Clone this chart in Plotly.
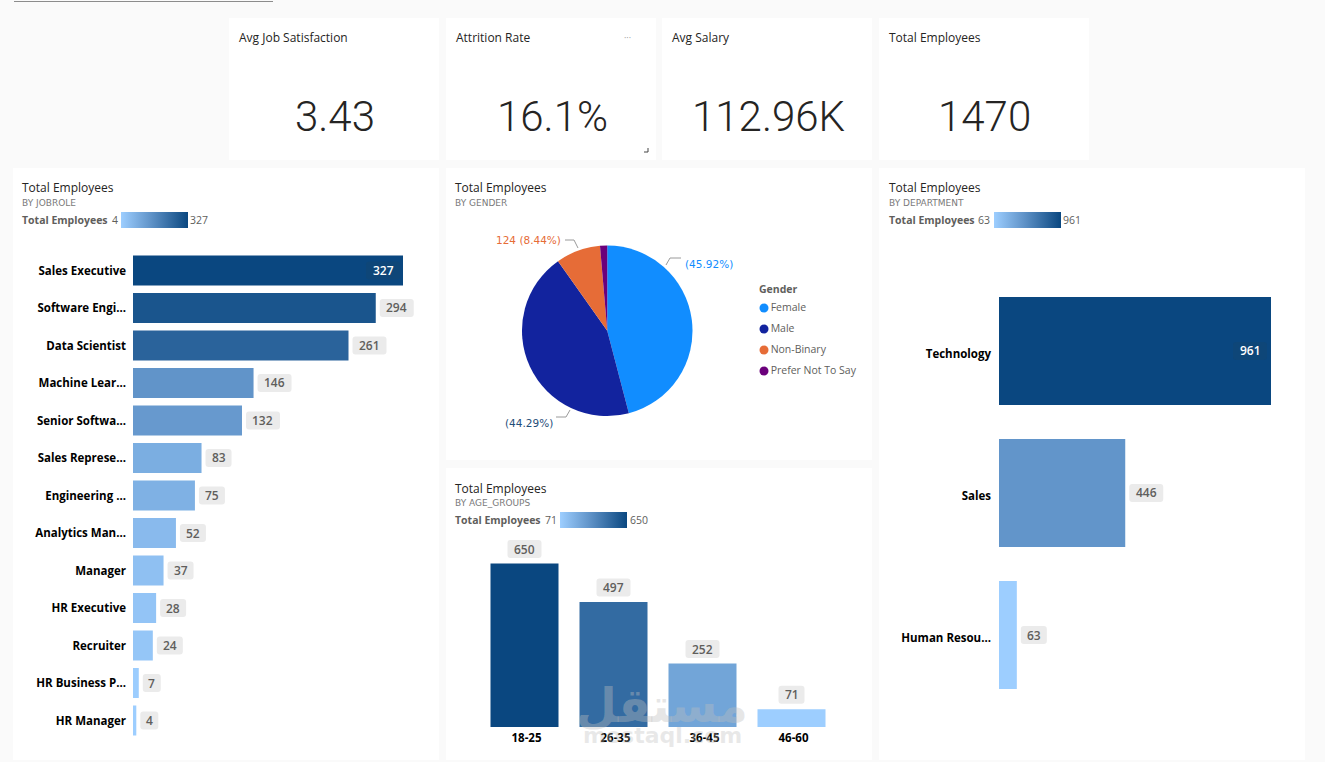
import plotly.graph_objects as go

W, H = 1325, 762

# data
job_roles = ["Sales Executive", "Software Engi...", "Data Scientist", "Machine Lear...", "Senior Softwa...",
             "Sales Represe...", "Engineering ...", "Analytics Man...", "Manager", "HR Executive",
             "Recruiter", "HR Business P...", "HR Manager"]
job_values = [327, 294, 261, 146, 132, 83, 75, 52, 37, 28, 24, 7, 4]
genders = ["Female", "Male", "Non-Binary", "Prefer Not To Say"]
gender_values = [675, 651, 124, 20]
gender_colors = ["#118DFF", "#12239E", "#E66C37", "#6B007B"]
age_groups = ["18-25", "26-35", "36-45", "46-60"]
age_values = [650, 497, 252, 71]
departments = ["Technology", "Sales", "Human Resou..."]
department_values = [961, 446, 63]
kpi_titles = ["Avg Job Satisfaction", "Attrition Rate", "Avg Salary", "Total Employees"]
kpi_values = ["3.43", "16.1%", "112.96K", "1470"]

BLUES = [[0, "#9DCEFF"], [0.43, "#6295CA"], [1, "#0A4780"]]
UI_FONT = "Open Sans"
KPI_FONT = "Roboto"


def px_x(x):
    return x / W


def px_y(y):
    return 1 - y / H


def dom_x(x0, x1):
    return [px_x(x0), px_x(x1)]


def dom_y(y0, y1):
    return [px_y(y1), px_y(y0)]


def note(x, y, text, size=12, color="#252423", anchor="left", weight=None, family=UI_FONT):
    fig.add_annotation(xref="paper", yref="paper", x=px_x(x), y=px_y(y), text=text, showarrow=False,
                       xanchor=anchor, yanchor="middle", borderpad=0, borderwidth=0,
                       font=dict(size=size, color=color, family=family, weight=weight))


def card(x0, y0, x1, y1):
    fig.add_shape(type="rect", xref="paper", yref="paper", x0=px_x(x0), x1=px_x(x1), y0=px_y(y0), y1=px_y(y1),
                  fillcolor="white", line_width=0, layer="below")


def leader(points):
    path = "M " + " L ".join(f"{px_x(a)} {px_y(b)}" for a, b in points)
    fig.add_shape(type="path", xref="paper", yref="paper", path=path, line=dict(color="#9A9A9A", width=1))


def chip(xa, ya, xv, yv, cx, cy, text, color="#EBEBEB", text_color="#605E5C"):
    # rounded grey box around a data label, anchored on the bar value and sized in pixels
    # pixel sized shape paths count y upwards
    half = 6 + 4 * len(text) - 1
    r = 3
    x0, x1, y0, y1 = cx - half, cx + half, -cy - 9, -cy + 9
    path = (f"M {x0 + r} {y0} L {x1 - r} {y0} Q {x1} {y0} {x1} {y0 + r} L {x1} {y1 - r} Q {x1} {y1} {x1 - r} {y1} "
            f"L {x0 + r} {y1} Q {x0} {y1} {x0} {y1 - r} L {x0} {y0 + r} Q {x0} {y0} {x0 + r} {y0} Z")
    fig.add_shape(type="path", xref=xa, yref=ya, xsizemode="pixel", ysizemode="pixel", xanchor=xv, yanchor=yv,
                  path=path, fillcolor=color, line_width=0)
    fig.add_annotation(xref=xa, yref=ya, x=xv, y=yv, xshift=cx, yshift=-cy, text=text, showarrow=False,
                       font=dict(size=12, color=text_color, family=UI_FONT, weight=600))


def scale_legend(x_label, x_low, x_high, y, low, high):
    note(x_label, y, "Total Employees", size=10.5, color="#605E5C", weight=700)
    note(x_low, y, str(low), size=10.5, color="#605E5C")
    note(x_high, y, str(high), size=10.5, color="#605E5C")


def colorbar_at(x, y):
    return dict(orientation="h", x=px_x(x), xanchor="left", y=px_y(y), yanchor="middle", xref="paper", yref="paper",
                lenmode="pixels", len=67, thicknessmode="pixels", thickness=16, xpad=0, ypad=0,
                outlinewidth=0, showticklabels=False, ticks="")


fig = go.Figure()

# cards
for x0 in [229, 446, 662, 879]:
    card(x0, 18, x0 + 210, 160)
card(13, 168, 439, 760)
card(446, 168, 872, 460)
card(446, 468, 872, 760)
card(879, 168, 1305, 760)

fig.add_shape(type="line", xref="paper", yref="paper", x0=px_x(14), x1=px_x(273), y0=px_y(1.5), y1=px_y(1.5),
              line=dict(color="#8C8C8C", width=1))

# kpi cards
for x0, title, value in zip([229, 446, 662, 879], kpi_titles, kpi_values):
    note(x0 + 10, 38, title)
    note(x0 + 106, 116, value, size=42, color="#252423", anchor="center", weight=300, family=KPI_FONT)
note(627, 38, "···", size=9, color="#9A9A9A", anchor="center")
fig.add_shape(type="path", xref="paper", yref="paper",
              path=f"M {px_x(648)} {px_y(148)} L {px_x(648)} {px_y(152)} L {px_x(644)} {px_y(152)}",
              line=dict(color="#444444", width=1))

# job role bars
fig.add_trace(go.Bar(y=job_roles, x=job_values, orientation="h", xaxis="x", yaxis="y", width=0.8,
                     marker=dict(color=job_values, colorscale=BLUES, cmin=min(job_values), cmax=max(job_values),
                                 line_width=0, showscale=True, colorbar=colorbar_at(121, 220))))
note(22, 188, "Total Employees")
note(22, 203, "BY JOBROLE", size=9, color="#7A7A7A", family="DejaVu Sans")
scale_legend(22, 112, 190, 220, min(job_values), max(job_values))
for role, v in zip(job_roles, job_values):
    if v == max(job_values):
        chip("x", "y", v, role, -20, 0, str(v), color="#0E4678", text_color="white")
    else:
        chip("x", "y", v, role, 4 + 6 + 4 * len(str(v)) - 1, 0, str(v))

# gender pie
fig.add_trace(go.Pie(labels=genders, values=gender_values, sort=False, direction="clockwise", rotation=0,
                     textinfo="none", showlegend=False,
                     marker=dict(colors=gender_colors, line=dict(color="white", width=0)),
                     domain=dict(x=dom_x(522, 692.5), y=dom_y(245.5, 416))))
note(455, 188, "Total Employees")
note(455, 203, "BY GENDER", size=9, color="#7A7A7A", family="DejaVu Sans")
total = sum(gender_values)
note(685, 264, f"({gender_values[0] / total * 100:.2f}%)", size=10.5, color=gender_colors[0], family="DejaVu Sans")
note(505, 423, f"({gender_values[1] / total * 100:.2f}%)", size=10.5, color="#1F4E79", family="DejaVu Sans")
note(561, 240, f"{gender_values[2]} ({gender_values[2] / total * 100:.2f}%)", size=10.5, color=gender_colors[2],
     anchor="right", family="DejaVu Sans")
leader([(666, 265), (670, 258), (681, 258)])
leader([(556, 417), (566, 417), (570, 410)])
leader([(565, 240), (574, 240), (578, 248)])

note(759, 289, "Gender", size=10.5, color="#605E5C", weight=700)
fig.add_trace(go.Scatter(x=[0] * len(genders), y=genders, xaxis="x4", yaxis="y4", mode="markers+text",
                         text=genders, textposition="middle right", cliponaxis=False,
                         textfont=dict(size=10.5, color="#605E5C", family=UI_FONT),
                         marker=dict(size=9, color=gender_colors), showlegend=False))

# age bars
fig.add_trace(go.Bar(x=age_groups, y=age_values, xaxis="x2", yaxis="y2", width=0.764,
                     marker=dict(color=age_values, colorscale=BLUES, cmin=min(age_values), cmax=max(age_values),
                                 line_width=0, showscale=True, colorbar=colorbar_at(560, 520))))
note(455, 488, "Total Employees")
note(455, 503, "BY AGE_GROUPS", size=9, color="#7A7A7A", family="DejaVu Sans")
scale_legend(455, 545, 630, 520, min(age_values), max(age_values))
for group, v in zip(age_groups, age_values):
    chip("x2", "y2", group, v, 0, -14.5, str(v))

# department bars
fig.add_trace(go.Bar(y=departments, x=department_values, orientation="h", xaxis="x3", yaxis="y3", width=0.76,
                     marker=dict(color=department_values, colorscale=BLUES, cmin=min(department_values),
                                 cmax=max(department_values), line_width=0, showscale=True,
                                 colorbar=colorbar_at(994, 220))))
note(889, 188, "Total Employees")
note(889, 203, "BY DEPARTMENT", size=9, color="#7A7A7A", family="DejaVu Sans")
scale_legend(889, 978, 1063, 220, min(department_values), max(department_values))
for dept, v in zip(departments, department_values):
    if v == max(department_values):
        chip("x3", "y3", v, dept, -21, 0, str(v), color="#0E4678", text_color="white")
    else:
        chip("x3", "y3", v, dept, 4 + 6 + 4 * len(str(v)) - 1, 0, str(v))

# watermark
note(662, 705, "مستقل", size=47, color="rgba(190,190,190,0.38)", anchor="center", weight=700, family="DejaVu Sans")
note(662, 735, "mostaql.com", size=22, color="rgba(190,190,190,0.35)", anchor="center", weight=700, family="DejaVu Sans")

hidden = dict(visible=False, fixedrange=True)
tick_font = dict(size=11.5, color="black", family=UI_FONT, weight=700)
# value axes run past the longest bar so the label boxes are not clipped
job_scale = 270 / max(job_values)
age_scale = 163.5 / max(age_values)
fig.update_layout(
    width=W, height=H, margin=dict(l=0, r=0, t=0, b=0), paper_bgcolor="#FAFAFA", plot_bgcolor="rgba(0,0,0,0)",
    showlegend=False, bargap=0.2,
    xaxis=dict(hidden, domain=dom_x(133, 433), range=[0, 300 / job_scale], anchor="y"),
    yaxis=dict(domain=dom_y(251.75, 739.25), type="category", range=[len(job_roles) - 0.5, -0.5], anchor="x",
               showgrid=False, showline=False, zeroline=False, ticks="", ticklabelstandoff=6, tickfont=tick_font,
               automargin=False),
    xaxis2=dict(domain=dom_x(480, 836), type="category", range=[-0.5, len(age_groups) - 0.5], anchor="y2",
                showgrid=False, showline=False, zeroline=False, ticks="", ticklabelstandoff=2, tickfont=tick_font,
                ticklabelshift=2, automargin=False),
    yaxis2=dict(hidden, domain=dom_y(535, 727), range=[0, 192 / age_scale], anchor="x2"),
    xaxis3=dict(hidden, domain=dom_x(999, 1271), range=[0, max(department_values)], anchor="y3"),
    yaxis3=dict(domain=dom_y(280, 706), type="category", range=[len(departments) - 0.5, -0.5], anchor="x3",
                showgrid=False, showline=False, zeroline=False, ticks="", ticklabelstandoff=7, tickfont=tick_font,
                ticklabelshift=-3, automargin=False),
    xaxis4=dict(hidden, domain=dom_x(759, 870), range=[-5, 106], anchor="y4"),
    yaxis4=dict(hidden, domain=dom_y(297.5, 381.5), type="category", range=[len(genders) - 0.5, -0.5], anchor="x4"),
)

fig.write_html("out.html", config={"displayModeBar": False},
               post_script="document.body.style.margin='0';document.body.style.background='#FAFAFA';")
